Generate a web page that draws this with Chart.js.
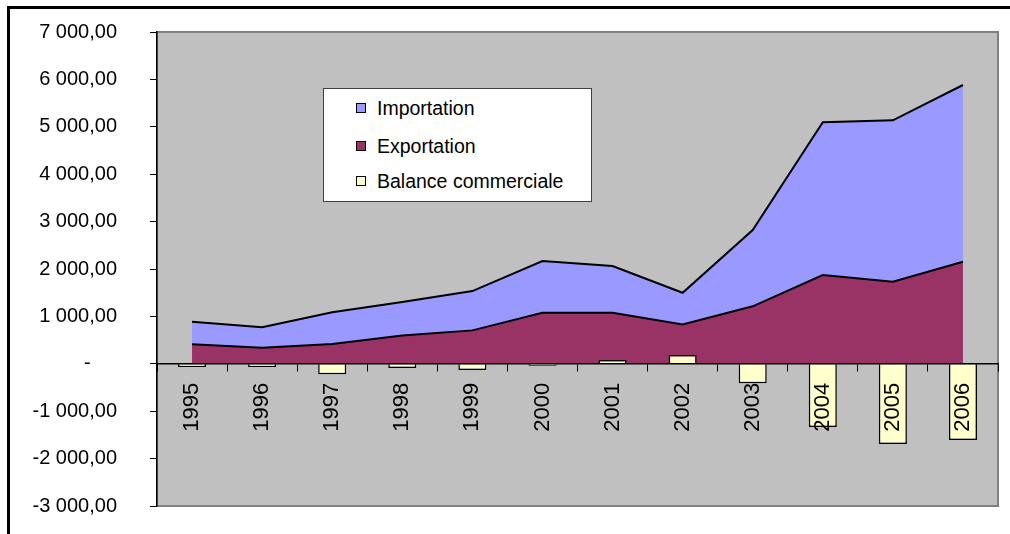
<!DOCTYPE html>
<html>
<head>
<meta charset="utf-8">
<script src="https://cdn.jsdelivr.net/npm/chart.js@4/dist/chart.umd.min.js"></script>
<style>
  html, body { margin: 0; padding: 0; background: #fff; overflow: hidden; }
  #wrap  { position: relative; width: 1010px; height: 534px; overflow: hidden; }
  #frame { position: absolute; left: 7px; top: 6px; width: 1200px; height: 800px; border: 3px solid #000; }
  #chart { position: absolute; left: 0; top: 0; }
  #legend {
    position: absolute; left: 323px; top: 88px; width: 269px; height: 114px;
    background: #fff; border: 1px solid #404040; box-sizing: border-box;
    font-family: 'Liberation Sans', Arial, sans-serif; font-size: 19.5px; color: #000;
  }
  #legend .item { position: absolute; left: 32px; height: 24px; line-height: 24px; white-space: nowrap; }
  #legend .box  { position: absolute; left: 0; top: 7px; width: 8px; height: 8px; border: 1.5px solid #000; }
  #legend .txt  { position: absolute; left: 21px; top: 0; }
</style>
</head>
<body>
<div id="wrap">
  <div id="frame"></div>
  <canvas id="chart" width="1010" height="534"></canvas>
  <div id="legend"></div>
</div>
<script>
/** Données */
const YEARS       = ['1995','1996','1997','1998','1999','2000','2001','2002','2003','2004','2005','2006'];
const IMPORTATION = [888, 770, 1087, 1302, 1534, 2167, 2061, 1498, 2823, 5095, 5137, 5882];
const EXPORTATION = [411, 340, 418, 599, 705, 1076, 1076, 831, 1213, 1873, 1733, 2154];
const BALANCE     = [-70, -70, -220, -90, -130, -40, 80, 185, -410, -1335, -1690, -1610];

const FONT = "'Liberation Sans', Arial, sans-serif";

Chart.defaults.font.family = FONT;
Chart.defaults.color       = '#000';

// fond gris de la zone de tracé, style Excel
const plotBg = {
  id: 'plotBg',
  beforeDraw(chart) {
    const { ctx, chartArea: a } = chart;
    ctx.save();
    ctx.fillStyle = '#C0C0C0';
    ctx.fillRect(a.left, a.top, a.right - a.left, a.bottom - a.top);
    ctx.strokeStyle = '#808080';
    ctx.lineWidth = 2;
    ctx.strokeRect(a.left, a.top, a.right - a.left, a.bottom - a.top);
    ctx.restore();
  },
};

function fmtValue(v) {
  if (v === 0) return '-    \u2009';
  const s = Math.abs(v).toFixed(2).replace('.', ',');
  const [int, dec] = s.split(',');
  const grouped = int.replace(/\B(?=(\d{3})+(?!\d))/g, ' ');
  return (v < 0 ? '-' : '') + grouped + ',' + dec;
}

const chart = new Chart(document.getElementById('chart'), {
  type: 'bar',
  data: {
    labels: YEARS,
    datasets: [
      {
        label: 'Importation', type: 'line', data: IMPORTATION, order: 2,
        borderColor: '#000', borderWidth: 2, backgroundColor: '#9999FF',
        fill: 'origin', tension: 0, pointRadius: 0,
      },
      {
        label: 'Exportation', type: 'line', data: EXPORTATION, order: 1,
        borderColor: '#000', borderWidth: 2, backgroundColor: '#993366',
        fill: 'origin', tension: 0, pointRadius: 0,
      },
      {
        label: 'Balance commerciale', data: BALANCE, order: 0,
        backgroundColor: '#FFFFCC', borderColor: '#000', borderWidth: 1.5,
        barPercentage: 0.4, categoryPercentage: 1,
      },
    ],
  },
  options: {
    responsive: false, animation: false,
    layout: { padding: { left: 0, top: 32, right: 12, bottom: 28 } },
    plugins: { legend: { display: false }, tooltip: { enabled: false } },
    scales: {
      x: {
        position: { y: 0 }, offset: true,
        grid: { display: true, drawOnChartArea: false, tickLength: 7, color: '#000', offset: true, z: 1 },
        border: { display: true, color: '#000', width: 1.5, z: 1 },
        ticks: { minRotation: 90, maxRotation: 90, autoSkip: false, padding: 12, z: 1,
                 font: { size: 22 }, color: '#000' },
      },
      y: {
        min: -3000, max: 7000,
        // largeur fixe et pas de marge verticale liée au padding des libellés
        afterFit: s => { s.width = 157; s.paddingTop = 12; s.paddingBottom = 12; },
        grid: { display: true, drawOnChartArea: false, tickLength: 7, color: '#000' },
        border: { display: true, color: '#000', width: 1.5 },
        ticks: { stepSize: 1000, padding: 33, font: { size: 20 }, color: '#000', callback: v => fmtValue(v) },
      },
    },
  },
  plugins: [plotBg],
});

// légende HTML placée dans la zone de tracé
const legendEl = document.getElementById('legend');
const items = chart.options.plugins.legend.labels.generateLabels(chart)
  .sort((a, b) => a.datasetIndex - b.datasetIndex);
const ROW_Y = [7, 45, 80];
items.forEach((it, i) => {
  const row = document.createElement('div');
  row.className = 'item';
  row.style.top = ROW_Y[i] + 'px';
  row.innerHTML = `<span class="box" style="background:${it.fillStyle}"></span><span class="txt">${it.text}</span>`;
  legendEl.appendChild(row);
});
</script>
</body>
</html>
